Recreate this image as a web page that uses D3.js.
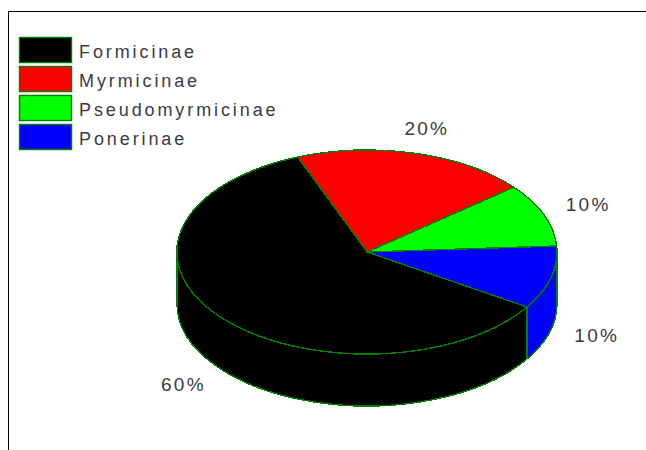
<!DOCTYPE html>
<html lang="en">

<head>
    <meta charset="UTF-8">
    <title>Ant subfamilies pie</title>
    <script src="https://d3js.org/d3.v7.min.js"></script>
    <style>
        body { margin: 0; background: #fff; }
        svg { display: block; }
        text { font-family: "Liberation Sans", Arial, sans-serif; fill: #3a3a44; }
        .legend text { font-size: 18px; letter-spacing: 2.9px; }
        .pct text { font-size: 19px; letter-spacing: 2.3px; text-anchor: middle; }
        .slice { stroke: #008000; stroke-width: 1.4px; vector-effect: non-scaling-stroke; shape-rendering: crispEdges; }
    </style>
</head>

<body>
    <script>
        const subfamilies = ["Formicinae", "Myrmicinae", "Pseudomyrmicinae", "Ponerinae"];
        const shares = [60, 20, 10, 10];
        const colours = ["#000000", "#ff0000", "#00ff00", "#0000ff"];

        let w = 646, h = 450;
        let cx = 367, cy = 252, rx = 190, ry = 102, depth = 52;
        const rad = Math.PI / 180;

        let svg = d3.select("body").append("svg").attr("width", w).attr("height", h);

        // frame, only top and left were drawn in the original
        svg.append("path")
            .attr("d", `M8.5,${h}V11.5H${w}`)
            .attr("fill", "none")
            .attr("stroke", "black");

        // pie starts where the blue slice ends, a bit tilted from 3 o'clock
        let start = 122.6 * rad;
        let slices = d3.pie().sort(null).startAngle(start).endAngle(start + 2 * Math.PI)(shares);
        let arc = d3.arc().innerRadius(0).outerRadius(1);

        // everything is drawn on a unit circle and squashed with scale()
        const pie = svg.append("g").attr("transform", `translate(${cx},${cy}) scale(${rx},${ry})`);
        let d = depth / ry;

        // side wall, only the front half shows
        slices.forEach(function (s, i) {
            let a0 = Math.max(s.startAngle - Math.PI / 2, 0);
            let a1 = Math.min(s.endAngle - Math.PI / 2, Math.PI);
            if (a1 <= a0) {
                a0 = Math.max(s.startAngle - 2.5 * Math.PI, 0);
                a1 = Math.min(s.endAngle - 2.5 * Math.PI, Math.PI);
            }
            if (a1 <= a0) return;
            let p = d3.path();
            p.arc(0, 0, 1, a0, a1);
            p.lineTo(Math.cos(a1), Math.sin(a1) + d);
            p.arc(0, d, 1, a1, a0, true);
            p.closePath();
            pie.append("path").attr("class", "slice").attr("fill", colours[i]).attr("d", p.toString());
        });

        // top face
        pie.selectAll("path.top")
            .data(slices)
            .enter()
            .append("path")
            .attr("class", "slice top")
            .attr("fill", (s, i) => colours[i])
            .attr("d", arc);

        // percent labels sit just outside the ellipse, pushed down on the front half
        const total = d3.sum(shares);
        svg.append("g").attr("class", "pct")
            .selectAll("text")
            .data(slices)
            .enter()
            .append("text")
            .attr("x", s => cx + 1.25 * rx * Math.sin((s.startAngle + s.endAngle) / 2))
            .attr("y", function (s) {
                let c = -Math.cos((s.startAngle + s.endAngle) / 2);
                return cy + 1.25 * ry * c + (c > 0 ? depth : 0) + 6;
            })
            .text(s => Math.round(s.value / total * 100) + "%");

        // legend
        let row = d3.scaleBand().domain(subfamilies).range([36, 152]);
        const legend = svg.append("g").attr("class", "legend")
            .selectAll("g")
            .data(subfamilies)
            .enter()
            .append("g")
            .attr("transform", n => `translate(19,${row(n)})`);
        legend.append("rect")
            .attr("x", 0.5)
            .attr("y", 1.5)
            .attr("width", 52)
            .attr("height", 25)
            .attr("fill", (n, i) => colours[i])
            .attr("stroke", "#008000")
            .attr("stroke-width", 1.4);
        legend.append("text")
            .attr("x", 60)
            .attr("y", 21.5)
            .text(n => n);
    </script>
</body>
</html>
